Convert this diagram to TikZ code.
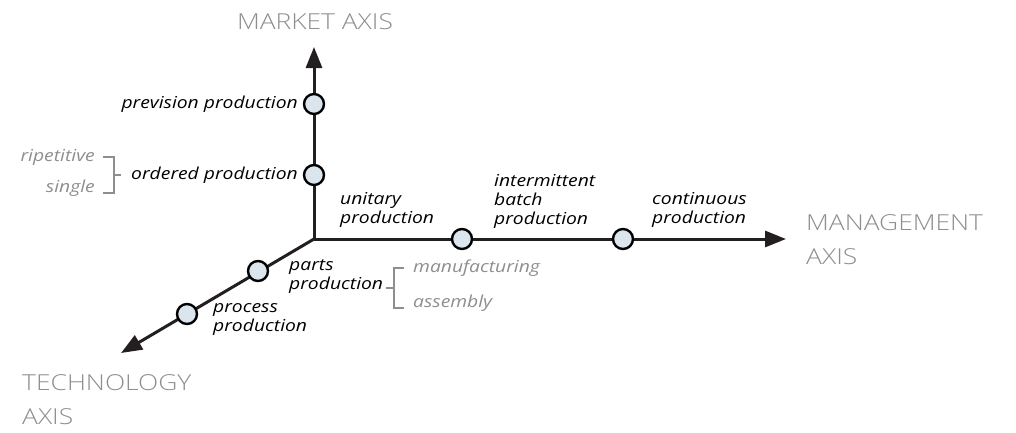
\documentclass[tikz,border=0pt]{standalone}
\usepackage{fontspec}
\setmainfont{Open Sans}[FakeStretch=1.17]
\newfontfamily\lightfont{Open Sans Light}[FakeStretch=1.2]
\usetikzlibrary{arrows.meta}

\definecolor{axisgray}{HTML}{8E8E8E}
\definecolor{dotfill}{HTML}{DAE5EE}
\definecolor{axisline}{HTML}{231F20}

\tikzset{
  stage/.style={circle, draw=black, fill=dotfill, line width=2.4pt,
    minimum size=20pt, inner sep=0pt},
  axis/.style={line width=3pt, draw=axisline,
    -{Triangle[length=21pt,width=16pt]}},
  lbl/.style={font=\fontsize{16.5}{19}\selectfont\itshape, align=left,
    inner sep=0pt},
  sublbl/.style={lbl, text=axisgray},
  title/.style={font=\lightfont\fontsize{22}{34}\selectfont, text=axisgray,
    align=left, inner sep=0pt},
  brace/.style={draw=axisgray, line width=1.2pt}
}

\begin{document}
\begin{tikzpicture}[x=1pt, y=-1pt]
  \useasboundingbox (0,0) rectangle (1016,432);

  % the three axes
  \coordinate (O) at (314,239);
  \coordinate (market) at (314,47);
  \coordinate (manage) at (786,239);
  \coordinate (techno) at (121,353);
  \draw[axis] (O) -- (market);
  \draw[axis] (O) -- (manage);
  \draw[axis] (O) -- (techno);

  % stages on the axes
  \node[stage] (prev) at (314,104) {};
  \node[stage] (ord) at (314,175) {};
  \node[stage] (batch) at (462,239) {};
  \node[stage] (cont) at (623,239) {};
  \node[stage] (parts) at (258,271) {};
  \node[stage] (proc) at (187,314) {};

  % axis names
  \node[title, anchor=center] (marketT) at (315,22) {MARKET AXIS};
  \node[title, anchor=west] (manageT) at (806,240) {MANAGEMENT\\AXIS};
  \node[title, anchor=west] (technoT) at (22,400) {TECHNOLOGY\\AXIS};

  % market axis
  \node[lbl, anchor=east] (prevL) at (298,104) {prevision production};
  \node[lbl, anchor=east] (ordL) at (298,175) {ordered production};
  \node[sublbl, anchor=east] (rip) at (95,157) {ripetitive};
  \node[sublbl, anchor=east] (sgl) at (95,188) {single};
  \draw[brace] (103,157) -- (114,157) -- (114,193) -- (103,193);
  \draw[brace] (114,175) -- (121,175);

  % management axis
  \node[lbl, anchor=west] (unitL) at (340,210) {unitary\\production};
  \node[lbl, anchor=west] (batchL) at (494,201) {intermittent\\batch\\production};
  \node[lbl, anchor=west] (contL) at (652,210) {continuous\\production};

  % technology axis
  \node[lbl, anchor=west] (partsL) at (289,277) {parts\\production};
  \node[lbl, anchor=west] (procL) at (213,319) {process\\production};
  \node[sublbl, anchor=west] (manu) at (413,268) {manufacturing};
  \node[sublbl, anchor=west] (asm) at (413,303) {assembly};
  \draw[brace] (404,268) -- (394,268) -- (394,308) -- (404,308);
  \draw[brace] (394,288) -- (386,288);
\end{tikzpicture}
\end{document}
